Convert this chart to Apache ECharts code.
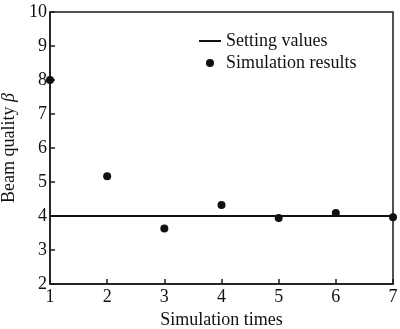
<!DOCTYPE html>
<html><head><meta charset="utf-8">
<script src="https://cdn.jsdelivr.net/npm/echarts@6/dist/echarts.min.js"></script>
<style>html,body{margin:0;padding:0;background:#fff}#c{width:400px;height:329px}</style>
</head><body><div id="c"></div>
<script>
var simTimes = [1, 2, 3, 4, 5, 6, 7];
var simResults = [8.0, 5.17, 3.63, 4.32, 3.94, 4.09, 3.96];
var settingX = [1, 7];
var settingY = [4, 4];
var FONT = 'Liberation Serif';
var chart = echarts.init(document.getElementById('c'));
chart.setOption({
  animation: false,
  backgroundColor: '#fff',
  grid: {left: 50, right: 7, top: 12, bottom: 45, outerBoundsMode: 'none', containLabel: false,
         show: true, borderColor: '#1a1a1a', borderWidth: 1.5, backgroundColor: 'transparent'},
  legend: {
    orient: 'vertical', left: 199, top: 32, padding: 0, itemWidth: 22, itemHeight: 8, itemGap: 4,
    textStyle: {fontFamily: FONT, fontSize: 18, color: '#111'},
    data: [
      {name: 'Setting values', icon: 'path://M0,0 L22,0 L22,2 L0,2 Z'},
      {name: 'Simulation results', icon: 'circle'}
    ]
  },
  xAxis: {
    type: 'value', min: 1, max: 7, interval: 1,
    name: 'Simulation times', nameLocation: 'middle', nameGap: 24,
    nameTextStyle: {fontFamily: FONT, fontSize: 18, color: '#111'},
    axisLine: {show: true, lineStyle: {color: '#1a1a1a', width: 1.5}},
    axisTick: {show: true, inside: true, length: 5, lineStyle: {color: '#1a1a1a', width: 1.5}},
    axisLabel: {fontFamily: FONT, fontSize: 18, color: '#111', margin: 4},
    splitLine: {show: false}
  },
  yAxis: {
    type: 'value', min: 2, max: 10, interval: 1,
    name: 'Beam quality {i|β}', nameLocation: 'middle', nameGap: 23,
    nameTextStyle: {fontFamily: FONT, fontSize: 18, color: '#111', rich: {i: {fontFamily: FONT, fontSize: 18, fontStyle: 'italic', color: '#111'}}},
    axisLine: {show: true, lineStyle: {color: '#1a1a1a', width: 1.5}},
    axisTick: {show: true, inside: true, length: 5, lineStyle: {color: '#1a1a1a', width: 1.5}},
    axisLabel: {fontFamily: FONT, fontSize: 18, color: '#111', margin: 3},
    splitLine: {show: false}
  },
  series: [
    {
      name: 'Setting values', type: 'line', symbol: 'none', silent: true, color: '#111',
      itemStyle: {color: '#111'},
      lineStyle: {color: '#111', width: 2},
      data: settingX.map(function (x, i) { return [x, settingY[i]]; })
    },
    {
      name: 'Simulation results', type: 'scatter', symbol: 'circle', symbolSize: 8, color: '#111',
      itemStyle: {color: '#111', opacity: 1},
      data: simTimes.map(function (x, i) { return [x, simResults[i]]; })
    }
  ]
});
</script></body></html>
